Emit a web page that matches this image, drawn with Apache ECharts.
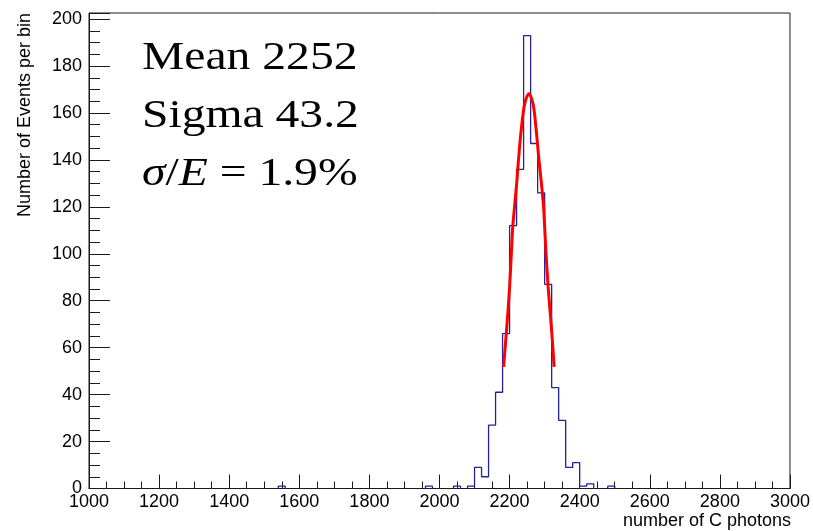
<!DOCTYPE html>
<html>
<head>
<meta charset="utf-8">
<script src="https://cdn.jsdelivr.net/npm/echarts@6/dist/echarts.min.js"></script>
<style>
html,body{margin:0;padding:0;background:#fff;}
#chart{width:813px;height:531px;}
</style>
</head>
<body>
<div id="chart"></div>
<script>
// ---- data ----
const xMin = 1000, xMax = 3000, binWidth = 20;
const yMax = 202.6;
const binLow = [1540,1960,2040,2080,2100,2120,2140,2160,2180,2200,2220,2240,2260,2280,2300,2320,2340,2360,2380,2400,2420,2480];
const counts = [1,1,1,1,9,5,27,41,66,112,136,193,147,126,87,43,29,9,11,1,2,1];
const fitX = [2183,2189,2195,2200,2205,2209,2214,2221,2226,2233,2243,2255,2267,2276,2283,2290,2297,2300,2304,2310,2316,2322,2327];
const fitY = [51.8,63.2,74.6,85.9,100.1,111.4,119.9,131.3,141.2,152.6,163.9,168.2,163.9,152.6,141.2,131.3,119.9,111.4,100.1,85.9,74.6,63.2,51.8];
const statLines = ['Mean 2252', 'Sigma 43.2'];
const resLine = '{i|σ}/{i|E} = 1.9%';
const xTitle = 'number of C photons';
const yTitle = 'Number of Events per bin';

// ---- build histogram outline (break at empty bins) ----
const nBins = Math.round((xMax - xMin) / binWidth);
const vals = new Array(nBins).fill(0);
binLow.forEach((lo, k) => { vals[Math.round((lo - xMin) / binWidth)] = counts[k]; });
const histPts = [];
let inRun = false;
for (let i = 0; i < nBins; i++) {
  const lo = xMin + i * binWidth, hi = lo + binWidth, v = vals[i];
  if (v > 0) {
    if (!inRun) { histPts.push([lo, 0]); inRun = true; }
    histPts.push([lo, v]); histPts.push([hi, v]);
  } else if (inRun) {
    histPts.push([lo, 0]); histPts.push(null); inRun = false;
  }
}
if (inRun) histPts.push([xMax, 0]);
const histData = histPts.map(p => p === null ? [null, null] : p);
const fitData = fitX.map((x, i) => [x, fitY[i]]);

const axisCol = '#1a1a1a';
const sans = '"Liberation Sans", Arial, Helvetica, sans-serif';
const serif = '"Liberation Serif", "Times New Roman", serif';

const chart = echarts.init(document.getElementById('chart'));
chart.setOption({
  animation: false,
  backgroundColor: '#fff',
  grid: { left: 89, right: 21, top: 13, bottom: 42.5, show: true, borderColor: axisCol, borderWidth: 1, backgroundColor: 'transparent' },
  xAxis: {
    type: 'value', min: xMin, max: xMax, interval: 200,
    axisLine: { show: true, lineStyle: { color: axisCol, width: 1 } },
    axisTick: { show: true, inside: true, length: 14, lineStyle: { color: axisCol } },
    minorTick: { show: true, splitNumber: 4, length: 7, lineStyle: { color: axisCol } },
    axisLabel: { color: '#000', fontFamily: sans, fontSize: 18, margin: 5, formatter: v => String(v) },
    splitLine: { show: false }
  },
  yAxis: {
    type: 'value', min: 0, max: yMax, interval: 20,
    axisLine: { show: true, lineStyle: { color: axisCol, width: 1 } },
    axisTick: { show: true, inside: true, length: 21, lineStyle: { color: axisCol } },
    minorTick: { show: true, splitNumber: 4, length: 11, lineStyle: { color: axisCol } },
    axisLabel: { color: '#000', fontFamily: sans, fontSize: 18, margin: 7, showMaxLabel: false,
      formatter: v => (Math.abs(v % 20) < 1e-6 ? String(v) : '') },
    splitLine: { show: false }
  },
  series: [
    {
      type: 'line', data: histData, connectNulls: false, symbol: 'none',
      lineStyle: { color: '#22229f', width: 1.3 }, z: 3
    },
    {
      type: 'line', data: fitData, symbol: 'none', smooth: 0.3,
      lineStyle: { color: '#ff0000', width: 3 }, z: 4
    }
  ],
  graphic: [
    { type: 'text', x: 142, y: 58, scaleX: 1.19, style: { text: statLines[0], font: '40px ' + serif, fill: '#000', verticalAlign: 'middle' } },
    { type: 'text', x: 142, y: 116, scaleX: 1.19, style: { text: statLines[1], font: '40px ' + serif, fill: '#000', verticalAlign: 'middle' } },
    { type: 'text', x: 142, y: 174, scaleX: 1.19, style: { text: resLine, font: '40px ' + serif, fill: '#000', verticalAlign: 'middle',
        rich: { i: { fontStyle: 'italic', fontFamily: serif, fontSize: 40 } } } },
    { type: 'text', x: 791, y: 521, style: { text: xTitle, font: '18px ' + sans, fill: '#000', align: 'right', verticalAlign: 'middle' } },
    { type: 'text', x: 25, y: 13, rotation: Math.PI / 2, style: { text: yTitle, font: '18px ' + sans, fill: '#000', align: 'right', verticalAlign: 'middle' } }
  ]
});
</script>
</body>
</html>
